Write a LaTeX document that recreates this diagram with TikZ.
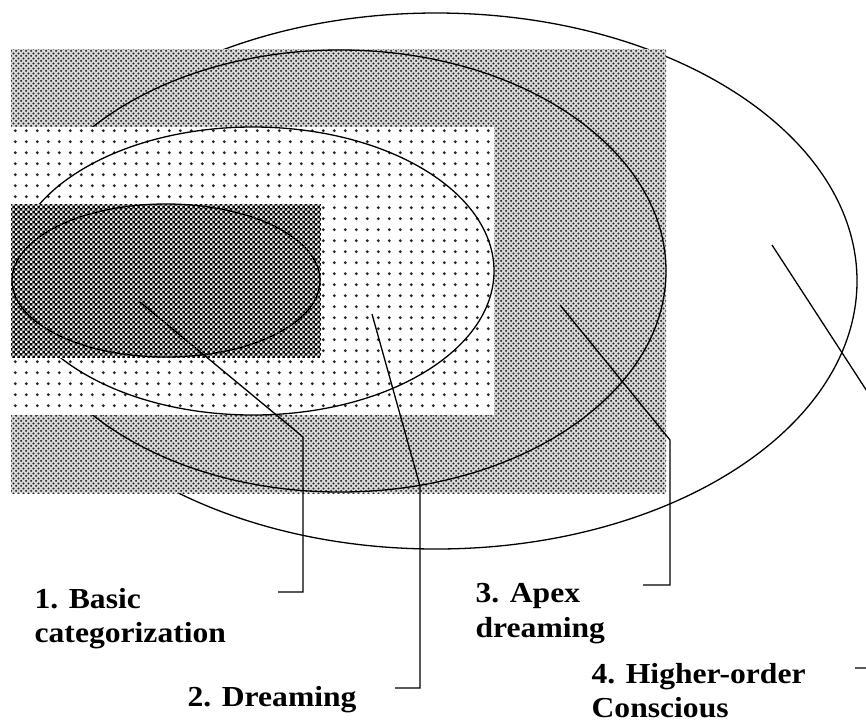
\documentclass[tikz,border=0pt]{standalone}
\usepackage{fontspec}
\setmainfont{Liberation Serif}[FakeStretch=1.09]
\usetikzlibrary{patterns,shapes.geometric}

\pgfdeclarepatternformonly{halftone}{\pgfqpoint{0pt}{0pt}}{\pgfqpoint{5.3pt}{5.3pt}}{\pgfqpoint{5.3pt}{5.3pt}}{%
  \pgfpathcircle{\pgfqpoint{1.325pt}{1.325pt}}{1.25pt}%
  \pgfpathcircle{\pgfqpoint{3.975pt}{3.975pt}}{1.25pt}%
  \pgfusepath{fill}}
\pgfdeclarepatternformonly{sparsedots}{\pgfqpoint{0pt}{0pt}}{\pgfqpoint{10.8pt}{10.8pt}}{\pgfqpoint{10.8pt}{10.8pt}}{%
  \pgfpathcircle{\pgfqpoint{5.4pt}{5.4pt}}{1.6pt}%
  \pgfusepath{fill}}
\pgfdeclarepatternformonly{checker}{\pgfqpoint{0pt}{0pt}}{\pgfqpoint{5.4pt}{5.4pt}}{\pgfqpoint{5.4pt}{5.4pt}}{%
  \pgfpathrectangle{\pgfqpoint{0pt}{0pt}}{\pgfqpoint{2.5pt}{2.5pt}}%
  \pgfpathrectangle{\pgfqpoint{2.7pt}{2.7pt}}{\pgfqpoint{2.5pt}{2.5pt}}%
  \pgfusepath{fill}}

\begin{document}
\begin{tikzpicture}[x=1pt,y=-1pt,line width=1.3pt,
  ring/.style={draw,ellipse,inner sep=0pt,outer sep=0pt},
  field/.style={inner sep=0pt,outer sep=0pt,anchor=north west},
  lbl/.style={font=\fontsize{29}{34.5}\selectfont\bfseries,align=left,inner sep=0pt,anchor=base west}
]
\useasboundingbox (0,0) rectangle (866,724);
\clip (0,0) rectangle (866,724);

% nested fields and rings, outermost first
\node[ring,minimum width=842,minimum height=536] (higher) at (436,281) {};
\node[field,fill=black!15,postaction={pattern=halftone,pattern color=black!85},minimum width=655,minimum height=444] (apexbg) at (11,49) {};
\node[ring,minimum width=652,minimum height=442] (apex) at (340,271) {};
\node[field,fill=white,postaction={pattern=sparsedots,pattern color=black!85},minimum width=483,minimum height=288] (dreambg) at (11,127) {};
\node[ring,minimum width=482,minimum height=288] (dream) at (253,271) {};
\node[field,fill=black,postaction={pattern=checker,pattern color=white},minimum width=310,minimum height=154] (basicbg) at (11,204) {};
\node[ring,minimum width=308,minimum height=153] (basic) at (166,280.5) {};

% labels (base = last line)
\node[lbl] (basiclbl) at (34,642.5) {1. Basic\\categorization};
\node[lbl] (dreamlbl) at (187,706) {2. Dreaming};
\node[lbl] (apexlbl) at (475,637) {3. Apex\\dreaming};
\node[lbl] (higherlbl) at (591,717.5) {4. Higher-order\\Conscious};

% leader lines
\coordinate (s1) at (140,302);
\coordinate (b1) at (303,437);
\coordinate (t1) at (278,592);
\coordinate (s2) at (372,314);
\coordinate (b2) at (420,486);
\coordinate (t2) at (395,688);
\coordinate (s3) at (560,305);
\coordinate (b3) at (670,440);
\coordinate (t3) at (643,585);
\coordinate (s4) at (772,245);
\coordinate (b4) at (900,442);
\coordinate (t4) at (855,668);
\draw (s1) -- (b1) |- (t1);
\draw (s2) -- (b2) |- (t2);
\draw (s3) -- (b3) |- (t3);
\draw (s4) -- (b4) |- (t4);
\end{tikzpicture}
\end{document}
